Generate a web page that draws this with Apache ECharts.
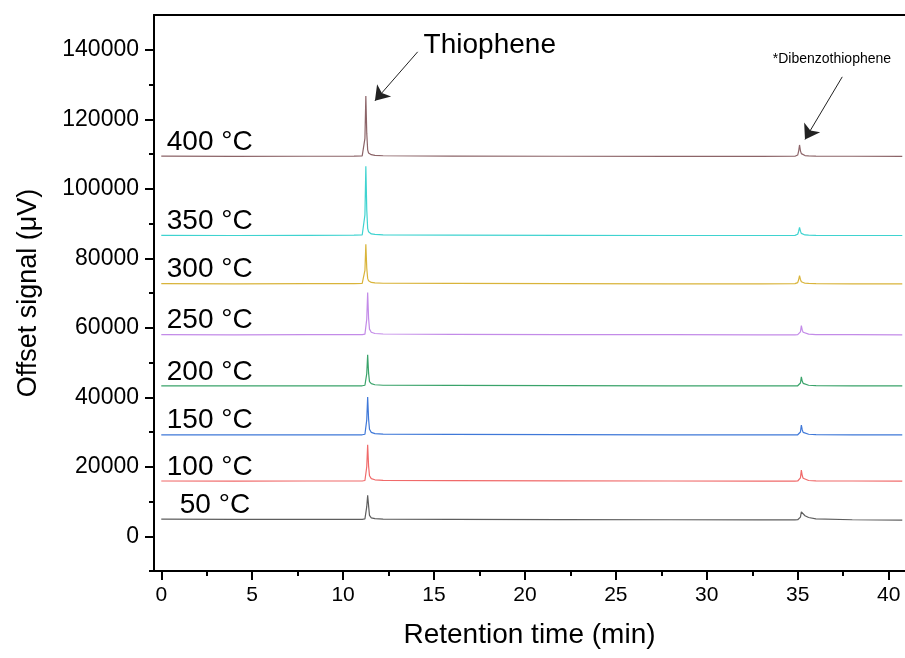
<!DOCTYPE html>
<html><head><meta charset="utf-8">
<script src="https://cdn.jsdelivr.net/npm/echarts@6/dist/echarts.min.js"></script>
<style>html,body{margin:0;padding:0;background:#fff}#c{width:905px;height:658px}</style>
</head><body><div id="c"></div>
<script>
// Retention time grid (min)
const time = [0, 4, 8, 10.6, 11.05, 11.15, 11.2, 11.25, 11.3, 11.35, 11.4, 11.45, 11.55, 11.75, 12.2, 16, 22, 28, 33, 34.85, 35.0, 35.05, 35.1, 35.15, 35.2, 35.25, 35.3, 35.4, 35.6, 36.0, 38, 40.75];
// Offset signals (µV)
const s50  = [4900,4850,4850,4850,4850,4900,5000,5250,8500,11800,8800,6000,5300,5050,4950,4850,4800,4750,4700,4700,4750,4800,4950,5500,7000,7200,6500,5900,5400,5000,4750,4650];
const s100 = [15900,15850,15900,15900,15900,15950,16050,16300,20000,26300,20300,17400,16600,16250,16100,16000,15950,15900,15850,15850,15900,15950,16100,16800,19050,17400,16700,16300,16050,15950,15900,15850];
const s150 = [29200,29150,29200,29200,29200,29250,29350,29600,33500,40100,33800,30800,29900,29550,29400,29300,29250,29200,29150,29150,29200,29250,29400,30000,32000,30600,29900,29550,29350,29250,29200,29150];
const s200 = [43300,43250,43300,43300,43300,43350,43450,43650,46800,52250,47000,44500,43900,43600,43450,43400,43350,43300,43250,43250,43300,43350,43500,44100,45900,44600,44000,43650,43450,43350,43300,43250];
const s250 = [58000,57950,58000,58000,58000,58050,58150,58400,62500,70150,62800,59600,58700,58350,58200,58100,58050,58000,57950,57950,58000,58050,58200,58800,60600,59300,58700,58350,58150,58050,58000,57950];
const s300 = [72700,72650,72700,72700,72750,72950,76500,84000,77200,74200,73500,73250,73050,72900,72800,72750,72700,72650,72650,72700,73000,73800,75000,73900,73250,73000,72850,72800,72750,72700,72650,72650];
const s350 = [86600,86550,86600,86650,86700,87000,92500,106500,94000,88600,87600,87250,87000,86850,86750,86650,86600,86550,86550,86600,86900,87700,88900,87800,87150,86950,86800,86700,86650,86600,86550,86550];
const s400 = [109400,109300,109350,109400,109450,109700,114500,126700,116000,111200,110300,110000,109800,109600,109500,109400,109350,109300,109300,109350,109700,110800,112600,110900,110100,109800,109650,109550,109450,109400,109350,109300];
const temps = ['50 °C','100 °C','150 °C','200 °C','250 °C','300 °C','350 °C','400 °C'];
const signals = [s50, s100, s150, s200, s250, s300, s350, s400];
const colors = ['#5e5e5e','#f06a6a','#3f78d8','#3aa36a','#c38be8','#d9b43a','#3fd3d0','#8c6468'];
// Ticks
const xMajor = [0,5,10,15,20,25,30,35,40];
const xMinor = [2.5,7.5,12.5,17.5,22.5,27.5,32.5,37.5];
const yMajor = [0,20000,40000,60000,80000,100000,120000,140000];
const yMinor = [-10000,10000,30000,50000,70000,90000,110000,130000];
// Annotations
const thioText = {name:'Thiophene', coord:[14.4, 141400]};
const thioArrow = [[14.1, 139400],[11.75, 125300]];
const dbtText = {name:'*Dibenzothiophene', coord:[33.6, 137400]};
const dbtArrow = [[37.45, 132200],[35.4, 114200]];

const FONT = '"Liberation Sans", Arial, sans-serif';
const chart = echarts.init(document.getElementById('c'), null, {renderer:'canvas'});
const xr = {min:-0.4, max:40.9};
const yr = {min:-10000, max:150000};
const series = signals.map((s, i) => {
  const o = {
    type:'line', name: temps[i], xAxisIndex:0, yAxisIndex:0,
    data: s.map((v, j) => [time[j], v]),
    symbol:'none', showSymbol:false, silent:true, animation:false,
    lineStyle:{color: colors[i], width:1.2},
    emphasis:{disabled:true},
    markPoint:{
      silent:true, animation:false,
      symbol:'circle', symbolSize:1, itemStyle:{color:'rgba(0,0,0,0)'},
      data:[{coord:[time[0], s[0]], name: temps[i],
        label:{show:true, formatter: temps[i], position:'right', distance: i===0 ? 18 : 5, offset:[0,-14],
          color:'#000', fontSize:28, fontFamily:FONT}}]
    }
  };
  if (i === signals.length - 1) {
    o.markPoint.data.push(
      {coord: thioText.coord, name: thioText.name, label:{show:true, formatter: thioText.name, position:'right', distance:0, color:'#000', fontSize:28, fontFamily:FONT}},
      {coord: dbtText.coord, name: dbtText.name, label:{show:true, formatter: dbtText.name, position:'right', distance:0, color:'#000', fontSize:14, fontFamily:FONT}}
    );
    o.markLine = {
      silent:true, animation:false, symbol:['none','arrow'], symbolSize:14,
      label:{show:false}, lineStyle:{color:'#222', width:1, type:'solid'},
      itemStyle:{color:'#111'},
      emphasis:{disabled:true},
      data:[
        [{coord: thioArrow[0]}, {coord: thioArrow[1]}],
        [{coord: dbtArrow[0]}, {coord: dbtArrow[1]}]
      ]
    };
  }
  return o;
});
const fmt = v => String(v);
chart.setOption({
  animation:false,
  backgroundColor:'#fff',
  grid:{left:154, right:0, top:15, bottom:87, show:false, containLabel:false},
  xAxis:[
    {type:'value', ...xr, position:'bottom',
     name:'Retention time (min)', nameLocation:'middle', nameGap:50,
     nameTextStyle:{fontSize:28, color:'#000', fontFamily:FONT},
     axisLine:{show:true, onZero:false, lineStyle:{color:'#000', width:2}},
     axisTick:{show:true, inside:false, customValues:xMajor, length:9, lineStyle:{color:'#000', width:2}},
     axisLabel:{show:true, customValues:xMajor, formatter:fmt, margin:14, fontSize:21, color:'#000', fontFamily:FONT},
     splitLine:{show:false}},
    {type:'value', ...xr, position:'bottom', gridIndex:0,
     axisLine:{show:false, onZero:false},
     axisTick:{show:true, inside:false, customValues:xMinor, length:5, lineStyle:{color:'#000', width:2}},
     axisLabel:{show:false}, splitLine:{show:false}},
    {type:'value', ...xr, position:'top', gridIndex:0,
     axisLine:{show:true, onZero:false, lineStyle:{color:'#000', width:2}},
     axisTick:{show:false}, axisLabel:{show:false}, splitLine:{show:false}}
  ],
  yAxis:[
    {type:'value', ...yr, position:'left',
     name:'Offset signal (μV)', nameLocation:'middle', nameGap:112,
     nameTextStyle:{fontSize:27, color:'#000', fontFamily:FONT},
     axisLine:{show:true, onZero:false, lineStyle:{color:'#000', width:2}},
     axisTick:{show:true, inside:false, customValues:yMajor, length:9, lineStyle:{color:'#000', width:2}},
     axisLabel:{show:true, customValues:yMajor, formatter:fmt, margin:15, fontSize:23, color:'#000', fontFamily:FONT},
     splitLine:{show:false}},
    {type:'value', ...yr, position:'left', gridIndex:0,
     axisLine:{show:false, onZero:false},
     axisTick:{show:true, inside:false, customValues:yMinor, length:5, lineStyle:{color:'#000', width:2}},
     axisLabel:{show:false}, splitLine:{show:false}}
  ],
  series: series
});
</script>
</body></html>
